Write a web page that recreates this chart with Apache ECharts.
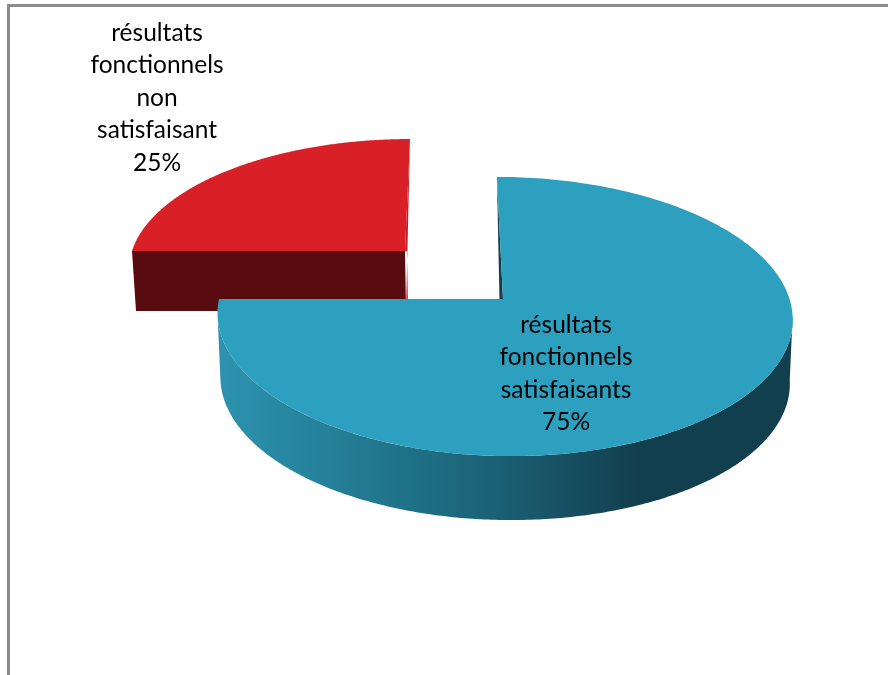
<!DOCTYPE html>
<html>
<head>
<meta charset="utf-8">
<style>html,body{margin:0;padding:0;background:#fff}#c{width:888px;height:675px}</style>
<script src="https://cdn.jsdelivr.net/npm/echarts@6/dist/echarts.min.js"></script>
</head>
<body>
<div id="c"></div>
<script>
const categories = [
  ['résultats', 'fonctionnels', 'non', 'satisfaisant'],
  ['résultats', 'fonctionnels', 'satisfaisants']
];
const values = [25, 75];
const valueLabels = ['25%', '75%'];

// Perspective drawing of each exploded wedge (this chart type has no built-in 3D pie)
const K = 0.1253;
const looks = [
  { cx: 405, cy: 251, rl: 273, rr: 273, q: 126, skew: -0.045, depth: 60,
    top: '#d92027', side: '#580c0f', edge: '#c41d2a', label: { x: 157, y: 33 } },
  { cx: 503, cy: 299, rl: 284, rr: 286.5, q: 137.4, skew: 0.05, depth: 64,
    top: '#2da0bf', side: null, edge: '#123f4e', label: { x: 566, y: 325 } }
];
const total = values.reduce((a, b) => a + b, 0);

function project(l, deg, dy, scale) {
  const a = deg * Math.PI / 180, c = Math.cos(a), s = Math.sin(a), w = 1 - K * s;
  const yy = l.q * s / w;
  const xx = (c < 0 ? l.rl : l.rr) * scale * c / w;
  return [l.cx + xx + l.skew * yy, l.cy + yy + dy];
}

function arc(l, a0, a1, dy, scale) {
  const pts = [], n = 240;
  for (let i = 0; i <= n; i++) pts.push(project(l, a0 + (a1 - a0) * i / n, dy, scale));
  return pts;
}

function renderSlice(params, api) {
  const i = params.dataIndex, l = looks[i], v = api.value(0);
  let after = 0;
  for (let j = i + 1; j < values.length; j++) after += values[j];
  const a0 = -90 + after / total * 360, a1 = a0 + v / total * 360;
  const apex = [l.cx, l.cy];
  const children = [];
  const poly = (points, fill) => children.push({ type: 'polygon', shape: { points }, style: { fill } });

  if (i === 0) {
    // red wedge: flat cut faces the viewer
    const tip = project(l, a1, 0, 1), left = project(l, a0, 0, 1);
    poly([tip, apex, [apex[0] + 2, apex[1]], [apex[0] + 3, apex[1] + l.depth], [apex[0] + 1, apex[1] + l.depth]], l.edge);
    poly([left, apex, [apex[0] + 1, apex[1] + l.depth], [left[0] + 4, left[1] + l.depth]], l.side);
    poly([apex].concat(arc(l, a0, a1, 0, 1)), l.top);
  } else {
    // blue wedge: curved rim with horizontal shading, between the silhouette extremes
    const rimFill = new echarts.graphic.LinearGradient(217, 0, 792, 0, [
      { offset: 0, color: '#2d93b0' },
      { offset: 0.32, color: '#1f7389' },
      { offset: 0.52, color: '#1a5c70' },
      { offset: 0.73, color: '#123f4e' },
      { offset: 1, color: '#123f4e' }
    ], true);
    const topArc = arc(l, 7, 173, 0, 1);
    const botArc = arc(l, 7, 173, l.depth, 0.99).reverse();
    poly(topArc.concat(botArc), rimFill);
    const tip = project(l, a0, 0, 1);
    poly([tip, apex, [apex[0] - 3.5, apex[1]]], l.edge);
    poly([apex].concat(arc(l, a0, a1, 0, 1)), l.top);
  }

  const lines = categories[i].concat(valueLabels[i]);
  lines.forEach((t, n) => children.push({
    type: 'text',
    style: {
      text: t, x: l.label.x, y: l.label.y + n * 32.5,
      align: 'center', verticalAlign: 'middle',
      font: '24.5px Lato', fill: '#000'
    }
  }));
  return { type: 'group', children };
}

const chart = echarts.init(document.getElementById('c'), null, { renderer: 'canvas' });
chart.setOption({
  animation: false,
  backgroundColor: '#fff',
  graphic: [
    { type: 'rect', shape: { x: 7, y: 4, width: 881, height: 3 }, style: { fill: '#8c8c8c' } },
    { type: 'rect', shape: { x: 7, y: 4, width: 3, height: 671 }, style: { fill: '#8c8c8c' } }
  ],
  series: [{
    type: 'custom',
    coordinateSystem: 'none',
    renderItem: renderSlice,
    data: values.map(v => [v])
  }]
});
</script>
</body>
</html>
